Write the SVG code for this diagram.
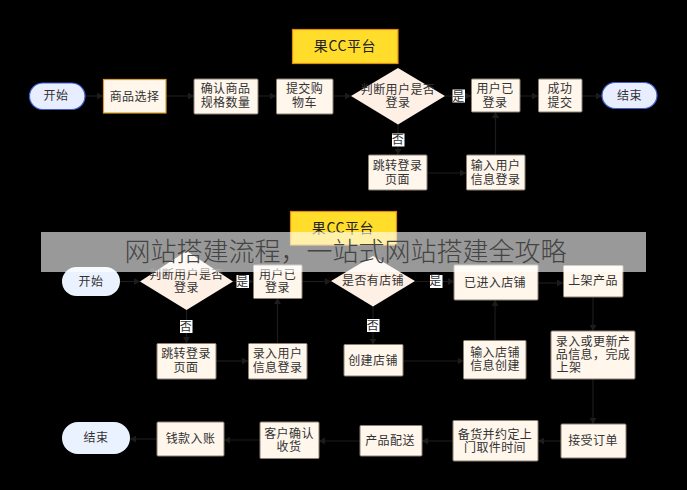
<svg xmlns="http://www.w3.org/2000/svg" width="687" height="490" viewBox="0 0 687 490">
<style>
text{font-family:"Noto Sans CJK SC","Liberation Sans",sans-serif;font-size:12px;fill:#333;text-anchor:middle;letter-spacing:.4px}
.box{fill:#fff6ec;stroke:#8a8070;stroke-width:1}
.hl{fill:#fff6ec;stroke:#d4a02a;stroke-width:1.2}
.dia{fill:#fff0e6}
.term{fill:#e8edff;stroke:#3a5fd0;stroke-width:1.2}
.term2{fill:#ebf2ff}
.title{fill:#ffdd2a;stroke:#e08a10;stroke-width:1.2}
.title-t{font-size:14px;letter-spacing:.6px;fill:#222}
.lab{fill:#fff}
.con path{fill:none;stroke:#1c1c1c;stroke-width:1.2;marker-end:url(#arr)}
.banner{fill:#fff;fill-opacity:.6}
.banner-t{font-size:26px;fill:#444;letter-spacing:0;font-weight:300}
</style>
<defs><marker id="arr" markerWidth="7" markerHeight="7" refX="6" refY="3.5" orient="auto" markerUnits="userSpaceOnUse"><path d="M0 0L6 3.5L0 7Z" style="fill:#1c1c1c;stroke:none;marker-end:none"/></marker></defs>
<rect width="687" height="490" fill="#000"/>
<g class="con">
<path d="M85 96H103"/><path d="M166 96H194"/><path d="M258 96H276"/><path d="M333 96H351"/><path d="M445 96H471"/><path d="M520 96H538"/><path d="M582 96H602"/>
<path d="M398 124V155"/><path d="M427 173H466"/><path d="M495.500 155V112"/>
<path d="M120 281.500H140"/><path d="M233 281.500H253"/><path d="M302 281.500H331"/><path d="M415 281.500H454"/><path d="M538 283H563"/>
<path d="M186.500 310V343"/><path d="M216 361H248"/><path d="M277.500 343V298"/>
<path d="M373 306V344.500"/><path d="M403 361H463.500"/><path d="M495 340V300"/>
<path d="M593 297V331"/><path d="M593 379V424"/>
<path d="M561 441H538"/><path d="M453 441H422"/><path d="M360 441H319"/><path d="M260 440H224"/><path d="M157 439H130"/>
</g>
<g id="title1"><rect class="title" x="292.500" y="29.500" width="105.500" height="34"/><text class="title-t" x="345" y="51">果CC平台</text></g>
<g id="start1"><rect class="term" x="29.500" y="83" width="55.500" height="26.500" rx="13.200"/><text x="56" y="100">开始</text></g>
<g id="n1"><rect class="hl" x="103.500" y="79.500" width="62.500" height="33.500"/><text x="134.500" y="100.500">商品选择</text></g>
<g id="n2"><rect class="box" x="194" y="79" width="64" height="35" rx="1"/><text x="225.500" y="93"><tspan x="225.500">确认商品</tspan><tspan x="225.500" dy="14">规格数量</tspan></text></g>
<g id="n3"><rect class="box" x="276.500" y="79" width="56.500" height="35" rx="1"/><text x="304.500" y="93"><tspan x="304.500">提交购</tspan><tspan x="304.500" dy="14">物车</tspan></text></g>
<g id="d1"><polygon class="dia" points="398,68 445,96 398,124.500 351,96"/><text x="398" y="93.500"><tspan x="398">判断用户是否</tspan><tspan x="398" dy="13">登录</tspan></text></g>
<g id="n4"><rect class="box" x="471.500" y="79" width="48.500" height="33" rx="1"/><text x="495" y="93"><tspan x="495">用户已</tspan><tspan x="495" dy="13.500">登录</tspan></text></g>
<g id="n5"><rect class="box" x="538.500" y="79" width="43.500" height="33" rx="1"/><text x="560" y="93"><tspan x="560">成功</tspan><tspan x="560" dy="13.500">提交</tspan></text></g>
<g id="end1"><rect class="term" x="602" y="82.500" width="55" height="26" rx="13"/><text x="629.500" y="99.500">结束</text></g>
<g id="n6"><rect class="box" x="368.500" y="155" width="58.500" height="35" rx="1"/><text x="397.500" y="170"><tspan x="397.500">跳转登录</tspan><tspan x="397.500" dy="13.500">页面</tspan></text></g>
<g id="n7"><rect class="box" x="466.500" y="155" width="58.500" height="35" rx="1"/><text x="495.500" y="170"><tspan x="495.500">输入用户</tspan><tspan x="495.500" dy="13.500">信息登录</tspan></text></g>
<g id="l1"><rect class="lab" x="452.500" y="89.500" width="12.500" height="13"/><text x="458.500" y="100.500">是</text></g>
<g id="l2"><rect class="lab" x="392" y="133.500" width="12.500" height="13"/><text x="398" y="144">否</text></g>
<g id="title2"><rect class="title" x="290.500" y="211.500" width="106" height="33.500"/><text class="title-t" x="343" y="233">果CC平台</text></g>
<g id="start2"><rect class="term2" x="62" y="267" width="58" height="29" rx="14.500"/><text x="91" y="285.500">开始</text></g>
<g id="d2"><polygon class="dia" points="186.500,251 233,281.500 186.500,310 140,281.500"/><text x="186.500" y="278.500"><tspan x="186.500">判断用户是否</tspan><tspan x="186.500" dy="13">登录</tspan></text></g>
<g id="n8"><rect class="box" x="253.500" y="265" width="48.500" height="33.500" rx="1"/><text x="277.500" y="279"><tspan x="277.500">用户已</tspan><tspan x="277.500" dy="13">登录</tspan></text></g>
<g id="d3"><polygon class="dia" points="373,256 415,281 373,306.500 331,281"/><text x="373" y="285">是否有店铺</text></g>
<g id="n9"><rect class="box" x="454" y="265" width="84" height="35" rx="1"/><text x="495" y="286.500">已进入店铺</text></g>
<g id="n10"><rect class="box" x="563.500" y="265.500" width="59.500" height="31.500" rx="1"/><text x="593" y="285">上架产品</text></g>
<g id="n11"><rect class="box" x="551" y="331" width="84" height="48" rx="1"/><text x="593" y="345.500"><tspan x="593">录入或更新产</tspan><tspan x="593" dy="13.500">品信息，完成</tspan><tspan x="569" dy="13">上架</tspan></text></g>
<g id="n12"><rect class="box" x="157" y="343.500" width="59" height="35.500" rx="1"/><text x="186" y="358"><tspan x="186">跳转登录</tspan><tspan x="186" dy="13.500">页面</tspan></text></g>
<g id="n13"><rect class="box" x="248.500" y="343.500" width="58.500" height="35.500" rx="1"/><text x="277.500" y="358"><tspan x="277.500">录入用户</tspan><tspan x="277.500" dy="13.500">信息登录</tspan></text></g>
<g id="n14"><rect class="box" x="344" y="344.500" width="59" height="31.500" rx="1"/><text x="373" y="364.500">创建店铺</text></g>
<g id="n15"><rect class="box" x="463.500" y="340.500" width="62.500" height="38.500" rx="1"/><text x="495" y="357"><tspan x="495">输入店铺</tspan><tspan x="495" dy="13">信息创建</tspan></text></g>
<g id="l3"><rect class="lab" x="236.500" y="275" width="12.500" height="13"/><text x="242.500" y="285.500">是</text></g>
<g id="l4"><rect class="lab" x="180" y="320" width="12.500" height="13"/><text x="186" y="330.500">否</text></g>
<g id="l5"><rect class="lab" x="430" y="275" width="12.500" height="13"/><text x="435.500" y="285">是</text></g>
<g id="l6"><rect class="lab" x="367" y="319" width="12.500" height="13"/><text x="373" y="329.500">否</text></g>
<g id="n16"><rect class="box" x="561" y="424" width="65" height="34" rx="1"/><text x="593" y="445">接受订单</text></g>
<g id="n17"><rect class="box" x="453" y="420.500" width="85" height="40.500" rx="1"/><text x="495" y="438.500"><tspan x="495">备货并约定上</tspan><tspan x="495" dy="13">门取件时间</tspan></text></g>
<g id="n18"><rect class="box" x="360" y="425.500" width="62" height="30.500" rx="1"/><text x="390" y="444.500">产品配送</text></g>
<g id="n19"><rect class="box" x="260" y="422" width="59" height="36.500" rx="1"/><text x="289" y="438"><tspan x="289">客户确认</tspan><tspan x="289" dy="13">收货</tspan></text></g>
<g id="n20"><rect class="box" x="157" y="422" width="67" height="34" rx="1"/><text x="190.500" y="443">钱款入账</text></g>
<g id="end2"><rect class="term2" x="62" y="422" width="68" height="32" rx="16"/><text x="96" y="442">结束</text></g>
<g id="banner"><rect class="banner" x="41" y="232" width="605" height="40"/><text class="banner-t" x="345.500" y="261">网站搭建流程，一站式网站搭建全攻略</text></g>
</svg>
